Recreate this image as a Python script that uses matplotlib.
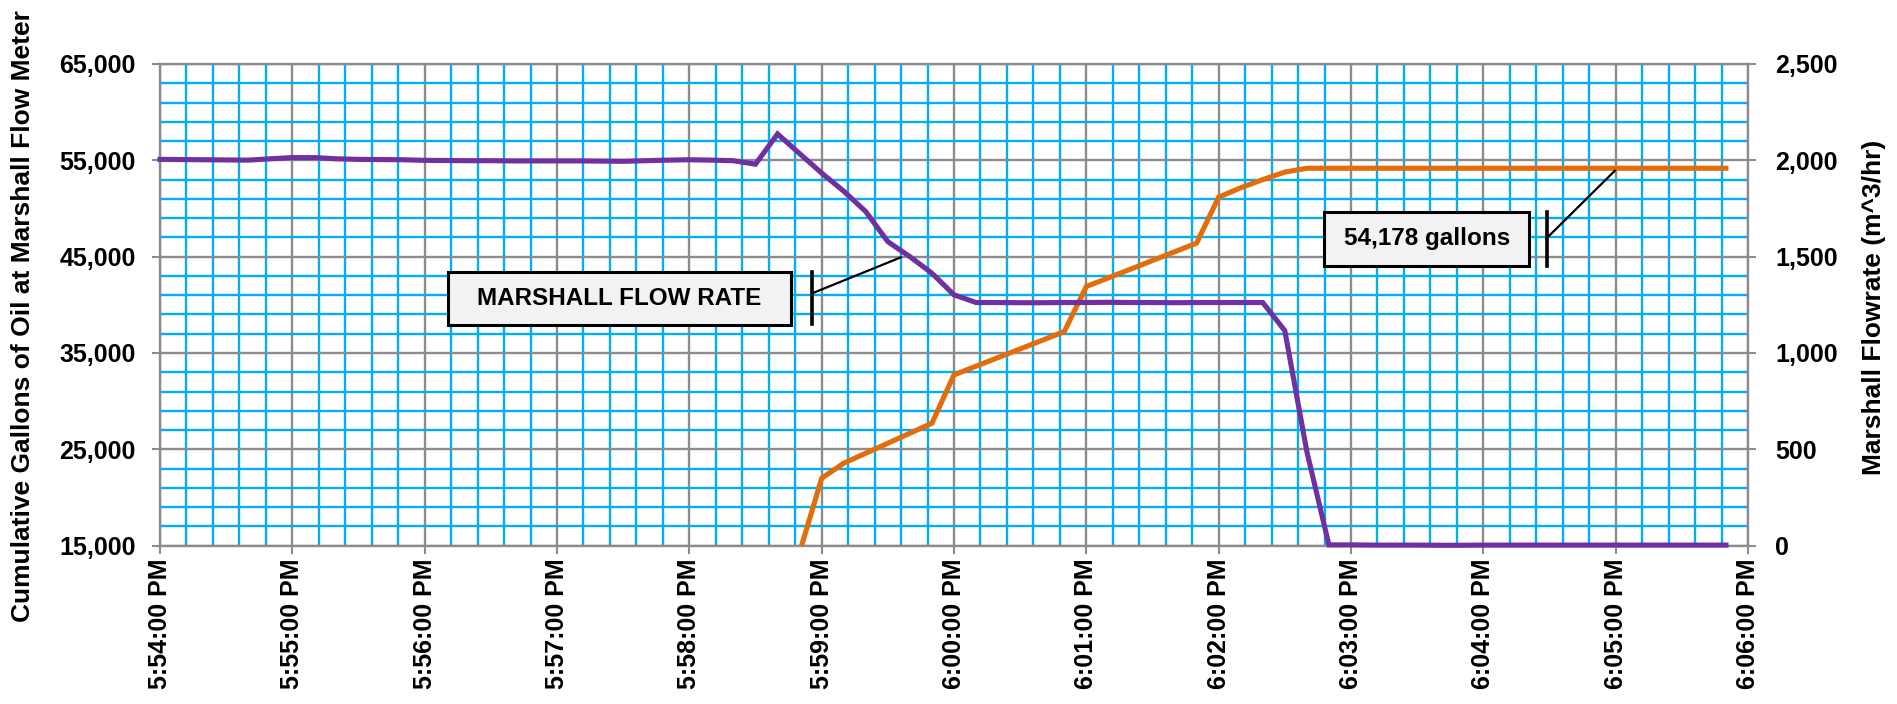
import numpy as np
import matplotlib
matplotlib.use("Agg")
import matplotlib.pyplot as plt
from matplotlib.patches import Rectangle
from matplotlib.lines import Line2D
from matplotlib import font_manager

names = {f.name for f in font_manager.fontManager.ttflist}
NARROW = "Liberation Sans Narrow" if "Liberation Sans Narrow" in names else None

plt.rcParams["font.family"] = ["Liberation Sans", "DejaVu Sans"]
plt.rcParams["font.weight"] = "bold"

# ---------------- data ----------------
time_labels = ["5:54:00 PM", "5:55:00 PM", "5:56:00 PM", "5:57:00 PM", "5:58:00 PM",
               "5:59:00 PM", "6:00:00 PM", "6:01:00 PM", "6:02:00 PM", "6:03:00 PM",
               "6:04:00 PM", "6:05:00 PM", "6:06:00 PM"]
sample_seconds = 10  # readings every 10 s starting 5:54:00 PM

# Marshall flow rate (m^3/hr), right axis
flow_rate = [2005, 2004, 2003, 2002, 2001, 2008, 2014, 2014, 2008, 2005, 2004, 2003,
             2000, 1999, 1998, 1998, 1997, 1997, 1997, 1997, 1996, 1995, 1998, 2001,
             2003, 2001, 1998, 1980, 2137, 2035, 1934, 1840, 1734, 1578, 1500, 1414,
             1302, 1262, 1262, 1261, 1261, 1262, 1262, 1263, 1262, 1262, 1261, 1262,
             1262, 1262, 1262, 1116, 488, 4, 4, 3, 3, 3, 2, 2, 3, 3, 3, 3,
             3, 3, 3, 3, 3, 3, 3, 3]

# Cumulative gallons of oil at Marshall flow meter, left axis
cum_gallons = [None] * 29 + [
    14300, 22000, 23560, 24600, 25630, 26670, 27710,
    32730, 33630, 34530, 35420, 36320, 37220,
    41900, 42800, 43700, 44600, 45500, 46400,
    51180, 52150, 53000, 53780, 54178] + [54178] * 19

left_ticks = [15000, 25000, 35000, 45000, 55000, 65000]
right_ticks = [0, 500, 1000, 1500, 2000, 2500]

flow_label = "MARSHALL FLOW RATE"
total_label = "54,178 gallons"

# ---------------- styles ----------------
BLUE = "#00B0F0"
GRAY = "#8C8C8C"
PURPLE = "#7030A0"
ORANGE = "#E46C0A"

t = np.arange(len(flow_rate)) * sample_seconds / 60.0
cg = np.array([np.nan if v is None else v for v in cum_gallons], dtype=float)

fig = plt.figure(figsize=(18.97, 7.04), dpi=100)
ax = fig.add_axes([0.08434, 0.2249, 0.8371, 0.6842])
ax2 = ax.twinx()

ax.set_xlim(0, 12)
ax.set_ylim(left_ticks[0], left_ticks[-1])
ax2.set_ylim(right_ticks[0], right_ticks[-1])

ax.set_xticks(np.arange(len(time_labels)))
ax.set_xticklabels(time_labels, rotation=90, fontsize=18, fontweight="bold")
ax.set_xticks(np.arange(0, 12.001, 0.2), minor=True)
ax.set_yticks(left_ticks)
ax.set_yticklabels([f"{v:,}" for v in left_ticks], fontsize=18, fontweight="bold")
ax.set_yticks(np.arange(15000, 65001, 2000), minor=True)
ax2.set_yticks(right_ticks)
ax2.set_yticklabels([f"{v:,}" for v in right_ticks], fontsize=18, fontweight="bold")

ax.set_axisbelow(True)
ax.grid(which="minor", color=BLUE, lw=1.7)
ax.grid(which="major", color=GRAY, lw=1.7)
ax.tick_params(which="minor", length=0)
ax.tick_params(axis="y", which="major", direction="out", length=5.5, width=1.5,
               color=GRAY, pad=12)
ax.tick_params(axis="x", which="major", direction="out", length=5.5, width=1.5,
               color=GRAY, pad=4)
ax2.tick_params(axis="y", which="major", direction="out", length=5.5, width=1.5,
                color=GRAY, pad=14)

for s in ["left", "bottom", "top"]:
    ax.spines[s].set_color(GRAY)
    ax.spines[s].set_linewidth(1.7)
ax.spines["right"].set_visible(False)
for s in ["left", "bottom", "top"]:
    ax2.spines[s].set_visible(False)
ax2.spines["right"].set_color(GRAY)
ax2.spines["right"].set_linewidth(1.7)

ax.plot(t, cg, color=ORANGE, lw=3.7, solid_joinstyle="miter", zorder=3)
ax2.plot(t, flow_rate, color=PURPLE, lw=3.7, solid_joinstyle="miter", clip_on=False, zorder=3)

ax.set_ylabel("Cumulative Gallons of Oil at Marshall Flow Meter", fontsize=19, fontweight="bold")
ax.yaxis.set_label_coords(-0.0790, 0.477)
ax2.set_ylabel("Marshall Flowrate (m^3/hr)", fontsize=19, fontweight="bold")
ax2.yaxis.set_label_coords(1.0718, 0.4945)

# ---------------- annotations ----------------
if NARROW:
    afam, asize = [NARROW, "Liberation Sans"], 21
else:
    afam, asize = ["Liberation Sans"], 17.5


def callout(x0, y0, x1, y1, text, bx, by0, by1, ly, ex, ey):
    tr = ax2.transAxes
    ax2.add_patch(Rectangle((x0, y0), x1 - x0, y1 - y0, transform=tr,
                            facecolor="#F2F2F2", edgecolor="black", lw=2.2, zorder=6))
    ax2.text((x0 + x1) / 2, (y0 + y1) / 2, text, transform=tr, ha="center", va="center",
             fontsize=asize, family=afam, fontweight="bold", zorder=7)
    ax2.add_line(Line2D([bx, bx], [by0, by1], transform=tr, color="black", lw=2.6, zorder=6))
    ax2.add_line(Line2D([bx, ex], [ly, ey], transform=tr, color="black", lw=1.6, zorder=6))


callout(0.1815, 0.4582, 0.3972, 0.5688, flow_label, 0.4108, 0.4600, 0.5688, 0.5240, 0.4666, 0.5987)
callout(0.7330, 0.5813, 0.8623, 0.6934, total_label, 0.8732, 0.5813, 0.6921, 0.6382, 0.9162, 0.7785)

fig.savefig("out.png", dpi=100)
